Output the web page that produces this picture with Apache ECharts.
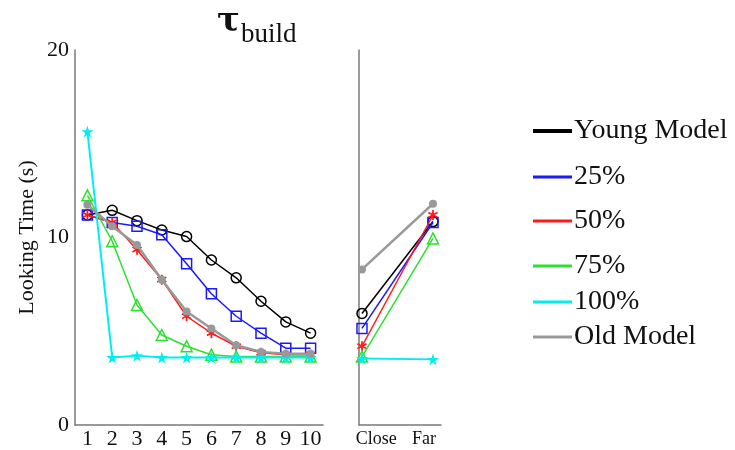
<!DOCTYPE html>
<html>
<head>
<meta charset="utf-8">
<script src="https://cdn.jsdelivr.net/npm/echarts@6/dist/echarts.min.js"></script>
<style>html,body{margin:0;padding:0;background:#fff}#c{width:735px;height:450px}</style>
</head>
<body>
<div id="c"></div>
<script>
// ---- data ----
const blocks = ['1','2','3','4','5','6','7','8','9','10'];
const testLabels = ['Close', 'Far'];
const yTicks = [0, 10, 20];
const seriesNames = ['Young Model', '25%', '50%', '75%', '100%', 'Old Model'];
const youngModel = [11.2, 11.45, 10.9, 10.4, 10.05, 8.8, 7.85, 6.6, 5.5, 4.9];
const pct25      = [11.2, 10.8, 10.6, 10.15, 8.6, 7.0, 5.8, 4.9, 4.1, 4.1];
const pct50      = [11.2, 10.8, 9.35, 7.75, 5.8, 4.9, 4.2, 3.85, 3.75, 3.75];
const pct75      = [12.25, 9.8, 6.4, 4.8, 4.2, 3.75, 3.65, 3.65, 3.65, 3.65];
const pct100     = [15.65, 3.6, 3.7, 3.6, 3.6, 3.6, 3.6, 3.6, 3.6, 3.6];
const oldModel   = [11.75, 10.6, 9.6, 7.75, 6.05, 5.15, 4.25, 3.9, 3.8, 3.8];
const testYoung = [5.95, 10.85];
const test25    = [5.15, 10.8];
const test50    = [4.2, 11.2];
const test75    = [3.65, 9.95];
const test100   = [3.55, 3.5];
const testOld   = [8.3, 11.8];

const leftData = [youngModel, pct25, pct50, pct75, pct100, oldModel];
const rightData = [testYoung, test25, test50, test75, test100, testOld];

// ---- styles ----
const colors = ['#000000', '#1a1aff', '#ff1a1a', '#2ee02e', '#00eeee', '#999999'];
const star = 'path://M50,0 L61,35 L98,35 L68,57 L79,91 L50,70 L21,91 L32,57 L2,35 L39,35 Z';
const aster = 'path://M4,0h2v4.2l3.6,-2.1l1,1.7l-3.6,2.1l3.6,2.1l-1,1.7l-3.6,-2.1v4.4h-2v-4.4l-3.6,2.1l-1,-1.7l3.6,-2.1l-3.6,-2.1l1,-1.7l3.6,2.1z';
const symbols = ['circle', 'rect', aster, 'triangle', star, 'circle'];
const symSizes = [10, 10, 10, 11, 12, 8];
const lineWidths = [1.5, 1.5, 1.5, 1.5, 2, 2.5];
const hollow = [true, true, false, true, false, false];
const legendTops = [117, 163, 207, 252, 288, 323];
const FONT = 'Liberation Serif';

const series = [];
seriesNames.forEach((name, i) => {
  const itemStyle = hollow[i]
    ? { color: 'rgba(255,255,255,0)', borderColor: colors[i], borderWidth: 1.5 }
    : { color: colors[i], borderWidth: 0 };
  const base = {
    name, type: 'line', symbol: symbols[i], symbolSize: symSizes[i],
    lineStyle: { color: colors[i], width: lineWidths[i] },
    itemStyle, color: colors[i], z: 2 + i, emphasis: { disabled: true }
  };
  series.push(Object.assign({}, base, { xAxisIndex: 0, yAxisIndex: 0, data: leftData[i] }));
  series.push(Object.assign({}, base, { xAxisIndex: 1, yAxisIndex: 1,
    data: rightData[i].map((v, k) => [k + 1, v]) }));
});

const legends = seriesNames.map((name, i) => ({
  data: [{ name, icon: 'rect', itemStyle: { color: colors[i], borderWidth: 0 } }],
  left: 533, top: legendTops[i], orient: 'vertical',
  itemWidth: 39, itemHeight: i === 0 ? 4 : 3, itemGap: 0, padding: 0,
  selectedMode: false,
  textStyle: { fontFamily: FONT, fontSize: 28, color: '#111', padding: [0, 0, 0, -3] }
}));

const axisLine = { show: true, lineStyle: { color: '#7a7a7a', width: 1.5 } };

const option = {
  animation: false,
  backgroundColor: '#fff',
  title: [
    { text: 'τ', left: 217, top: 5, padding: 0,
      textStyle: { fontFamily: 'DejaVu Serif', fontSize: 34, fontWeight: 'bold', color: '#111' } },
    { text: 'build', left: 241, top: 21, padding: 0,
      textStyle: { fontFamily: FONT, fontSize: 27, fontWeight: 'normal', color: '#111' } }
  ],
  legend: legends,
  grid: [
    { left: 75, top: 50, width: 248, height: 375 },
    { left: 359, top: 50, width: 82, height: 375 }
  ],
  xAxis: [
    { type: 'category', gridIndex: 0, data: blocks, boundaryGap: true,
      axisLine, axisTick: { show: false },
      axisLabel: { fontFamily: FONT, fontSize: 22, color: '#111', margin: 3, interval: 0 } },
    { type: 'value', gridIndex: 1, min: 0.958, max: 2.113,
      axisLine, axisTick: { show: false }, splitLine: { show: false },
      axisLabel: { fontFamily: FONT, fontSize: 18, color: '#111', margin: 5,
        customValues: [1.2, 1.875],
        formatter: v => (v < 1.5 ? testLabels[0] : testLabels[1]) } }
  ],
  yAxis: [
    { type: 'value', gridIndex: 0, min: yTicks[0], max: yTicks[2], interval: 10,
      axisLine, axisTick: { show: false }, splitLine: { show: false },
      name: 'Looking Time (s)', nameLocation: 'middle', nameGap: 37,
      nameTextStyle: { fontFamily: FONT, fontSize: 22, color: '#111' },
      axisLabel: { fontFamily: FONT, fontSize: 22, color: '#111', margin: 6 } },
    { type: 'value', gridIndex: 1, min: 0, max: 20, interval: 10,
      axisLine, axisTick: { show: false }, splitLine: { show: false },
      axisLabel: { show: false } }
  ],
  series
};

const chart = echarts.init(document.getElementById('c'), null, { renderer: 'canvas' });
chart.setOption(option);
</script>
</body>
</html>
